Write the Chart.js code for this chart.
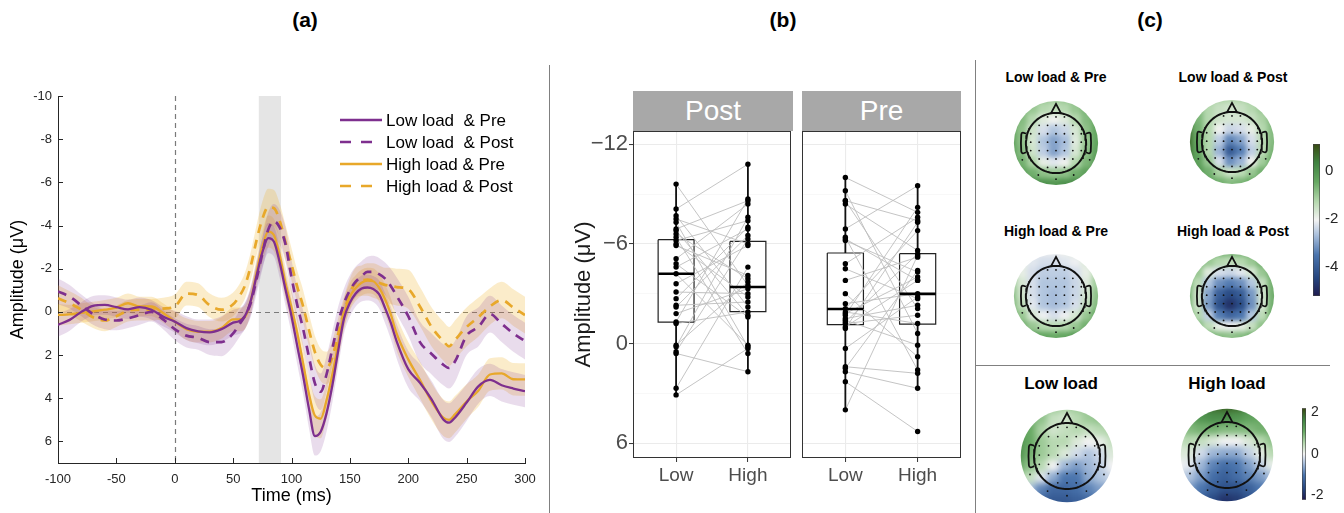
<!DOCTYPE html>
<html><head><meta charset="utf-8">
<script src="https://cdn.jsdelivr.net/npm/chart.js@4.4.1/dist/chart.umd.min.js"></script>
<style>
html,body{margin:0;padding:0;background:#fff;}
body{width:1344px;height:513px;overflow:hidden;position:relative;font-family:"Liberation Sans",Arial,Helvetica,sans-serif;}
.abs{position:absolute;}
canvas{display:block;}
.ptitle{position:absolute;font-weight:bold;font-size:21px;color:#000;transform:translateX(-50%);white-space:nowrap;}
.mtitle{position:absolute;font-weight:bold;color:#000;transform:translate(-50%,-50%);white-space:nowrap;}
.strip{position:absolute;background:#A8A8A8;color:#fff;font-size:28px;display:flex;align-items:center;justify-content:center;}
.sep{position:absolute;background:#808080;}
</style></head><body>
<div class="ptitle" style="left:305px;top:8px">(a)</div>
<div class="ptitle" style="left:783px;top:8px">(b)</div>
<div class="ptitle" style="left:1150px;top:8px">(c)</div>
<div class="sep" style="left:549px;top:65px;width:1px;height:448px"></div>
<div class="sep" style="left:975px;top:60px;width:1px;height:453px"></div>
<div class="sep" style="left:975px;top:365px;width:355px;height:1px"></div>
<canvas id="erp" class="abs" style="left:0;top:0" width="548" height="513"></canvas>
<canvas id="post" class="abs" style="left:550px;top:0" width="245" height="513"></canvas>
<canvas id="pre" class="abs" style="left:797px;top:0" width="170" height="513"></canvas>
<div class="strip" style="left:633px;top:91px;width:160px;height:40px">Post</div>
<div class="strip" style="left:802px;top:91px;width:159px;height:40px">Pre</div>
<div class="mtitle" style="left:1056px;top:77px;font-size:14px">Low load &amp; Pre</div>
<div class="mtitle" style="left:1233px;top:77px;font-size:14px">Low load &amp; Post</div>
<div class="mtitle" style="left:1056px;top:231px;font-size:14px">High load &amp; Pre</div>
<div class="mtitle" style="left:1233px;top:231px;font-size:14px">High load &amp; Post</div>
<div class="mtitle" style="left:1061px;top:384px;font-size:17px">Low load</div>
<div class="mtitle" style="left:1227px;top:384px;font-size:17px">High load</div>
<script>
// ================= DATA =================
// (a) grand-average ERPs
const timeMs = [-100,-90,-80,-70,-60,-50,-40,-30,-20,-10,0,10,20,30,40,50,55,60,65,70,75,80,85,90,95,100,105,110,115,120,125,130,135,140,145,150,155,160,165,170,175,180,185,190,200,210,220,230,235,240,250,260,270,280,290,300];
const lowLoadPre = [0.60,0.37,0.00,-0.28,-0.32,-0.22,-0.12,-0.22,-0.10,0.22, 0.45,0.75,0.90,0.95,0.80,0.50, 0.43,0.20,-0.50,-1.65,-2.75,-3.42,-3.25,-2.26,-1.00,0.20, 1.60,2.97,4.50,5.75,5.55,4.70,3.40,1.80,0.30,-0.42, -0.85,-1.08,-1.13,-1.06,-0.82,-0.20,0.50, 1.35,2.65,3.28,4.05,4.98,5.13,4.90,4.20,3.45,3.15,3.40,3.55,3.67];
const lowLoadPost = [-0.95,-0.70,-0.30,0.10,0.35,0.40,0.30,0.15,0.00,0.35, 0.80,1.10,1.20,1.40,1.40,1.00, 0.60,0.20,-0.40,-1.50,-2.70,-3.80,-4.20,-3.90,-3.10,-1.60, -0.30,0.80,2.10,3.30,3.70,2.90,1.70,0.50,-0.40,-1.00, -1.40,-1.65,-1.85,-1.85,-1.75,-1.55,-1.20, -0.75,0.20,1.40,1.95,2.45,2.60,2.30,1.10,0.70,0.10,0.55,1.00,1.35];
const highLoadPre = [0.14,0.12,0.05,-0.02,-0.10,-0.20,-0.40,-0.25,-0.25,0.05, 0.45,0.80,0.92,0.92,0.75,0.35, 0.35,0.25,-0.50,-1.80,-3.00,-3.72,-3.55,-2.60,-1.30,-0.20, 1.00,2.40,3.80,4.80,4.95,4.10,2.90,1.50,0.10,-0.70, -1.10,-1.35,-1.45,-1.42,-1.12,-0.60,0.10, 1.00,2.20,3.15,4.15,4.90,5.00,4.75,4.15,3.65,2.90,2.85,3.12,3.13];
const highLoadPost = [-0.63,-0.40,-0.10,0.25,0.40,0.20,-0.05,-0.10,-0.10,-0.15, -0.25,-0.85,-0.78,-0.30,-0.10,-0.35, -0.70,-1.20,-2.10,-3.30,-4.30,-4.85,-4.80,-4.20,-3.20,-2.20, -1.15,-0.25,0.85,1.85,2.45,2.60,2.10,1.00,0.00,-0.85, -1.35,-1.45,-1.50,-1.45,-1.35,-1.25,-1.20, -1.15,-1.05,-0.25,0.70,1.35,1.60,1.30,0.70,0.25,-0.25,-0.55,-0.20,0.15];
// shaded error bands (half width, µV)
const seLowPre = [0.55,0.50,0.45,0.45,0.45,0.45,0.45,0.45,0.45,0.45, 0.50,0.55,0.55,0.60,0.60,0.60, 0.60,0.60,0.65,0.65,0.70,0.70,0.70,0.70,0.75,0.80, 0.85,0.85,0.90,0.90,0.90,0.85,0.80,0.75,0.70,0.65, 0.60,0.60,0.60,0.60,0.65,0.70,0.75, 0.80,0.85,0.85,0.85,0.90,0.90,0.90,0.85,0.80,0.75,0.75,0.75,0.75];
const seLowPost = [0.60,0.55,0.50,0.50,0.45,0.45,0.45,0.45,0.45,0.45, 0.50,0.55,0.55,0.60,0.65,0.60, 0.60,0.60,0.65,0.70,0.75,0.80,0.80,0.80,0.80,0.80, 0.80,0.85,0.85,0.85,0.85,0.85,0.80,0.75,0.70,0.70, 0.70,0.70,0.70,0.75,0.75,0.75,0.80, 0.85,0.90,0.95,0.95,0.95,0.95,0.95,0.90,0.90,0.85,0.85,0.85,0.85];
const seHighPre = [0.50,0.45,0.45,0.45,0.45,0.45,0.45,0.45,0.45,0.45, 0.45,0.50,0.50,0.50,0.50,0.55, 0.55,0.55,0.60,0.65,0.70,0.75,0.75,0.75,0.75,0.80, 0.80,0.85,0.85,0.90,0.90,0.85,0.80,0.75,0.70,0.65, 0.60,0.60,0.60,0.60,0.65,0.70,0.75, 0.80,0.80,0.85,0.85,0.85,0.85,0.85,0.80,0.75,0.75,0.75,0.75,0.75];
const seHighPost = [0.60,0.55,0.55,0.50,0.50,0.50,0.50,0.50,0.50,0.50, 0.55,0.55,0.55,0.55,0.55,0.55, 0.55,0.60,0.65,0.70,0.80,0.85,0.85,0.80,0.80,0.75, 0.75,0.75,0.75,0.75,0.75,0.75,0.75,0.70,0.70,0.70, 0.70,0.70,0.75,0.80,0.80,0.80,0.85, 0.85,0.90,0.90,0.90,0.90,0.90,0.90,0.90,0.90,0.85,0.85,0.85,0.85];
const erpLabels = ['Low load  & Pre','Low load  & Post','High load & Pre','High load & Post'];
const analysisWindowMs = [72, 91];
const ampTicks = [-10,-8,-6,-4,-2,0,2,4,6];
const timeTicks = [-100,-50,0,50,100,150,200,250,300];

// (b) individual amplitudes, paired by subject
const loadLevels = ['Low','High'];
const postLow  = [-9.6,-8.1,-7.7,-7.5,-7.3,-6.9,-6.8,-6.6,-6.4,-6.2,-6.0,-5.9,-5.1,-4.8,-4.6,-4.2,-3.6,-3.1,-2.7,-2.3,-2.2,-1.8,-1.3,-1.2,0.1,0.2,0.5,0.6,2.7,3.1];
const postHigh = [-3.5,-10.8,-2.2,-6.0,0.2,-8.6,-1.7,-3.9,0.6,-7.4,-2.8,-4.1,-8.4,-1.6,-6.9,0.1,-5.9,-3.0,-7.0,-2.5,-6.5,-3.3,-8.7,-1.9,-3.7,-7.6,-6.3,1.7,-4.6,0.3];
const preLow   = [-10.0,-9.2,-8.6,-8.6,-8.4,-6.9,-6.4,-6.3,-6.2,-4.8,-4.5,-3.8,-3.0,-2.4,-2.1,-1.9,-1.8,-1.7,-1.5,-1.4,-1.3,-1.2,-1.0,-0.9,0.3,1.4,1.5,1.7,2.3,4.0];
const preHigh  = [-7.9,-0.6,-7.4,-2.1,-5.6,-9.5,1.6,-3.8,-4.3,-7.6,-2.7,-5.2,0.8,-3.0,-6.8,-1.2,-4.0,-8.2,-2.3,0.1,-5.4,-1.7,-3.8,-7.3,-2.8,1.8,-4.4,2.7,5.3,-5.3];
// box statistics: [whisker min, lower hinge, median, upper hinge, whisker max]
const postLowBox  = [-9.6,-6.25,-4.2,-1.28,3.1];
const postHighBox = [-10.8,-6.15,-3.4,-1.92,1.7];
const preLowBox   = [-10.0,-5.45,-2.08,-1.14,4.0];
const preHighBox  = [-9.5,-5.41,-2.99,-1.16,2.75];
const boxAmpTicks = [-12,-9,-6,-3,0,3,6];

// (c) scalp maps (9x9 grids, rows front->back, cols left->right)
const topoLowPre = [
[-0.5,-0.6,-0.8,-1.0,-1.1,-1.0,-0.8,-0.6,-0.5],
[-0.5,-0.7,-1.0,-1.3,-1.4,-1.3,-1.0,-0.7,-0.5],
[-0.5,-0.8,-1.3,-1.8,-2.0,-1.8,-1.3,-0.8,-0.5],
[-0.4,-0.9,-1.6,-2.3,-2.6,-2.4,-1.7,-0.9,-0.4],
[-0.3,-0.9,-1.7,-2.6,-3.0,-2.7,-1.8,-1.0,-0.4],
[-0.3,-0.8,-1.6,-2.5,-3.0,-2.6,-1.7,-0.9,-0.3],
[-0.2,-0.6,-1.2,-1.9,-2.2,-2.0,-1.3,-0.7,-0.2],
[0.0,-0.3,-0.6,-0.9,-1.0,-0.9,-0.6,-0.3,0.0],
[0.3,0.2,0.1,0.0,-0.1,0.0,0.1,0.2,0.3]];
const topoLowPost = [
[-0.3,-0.8,-1.0,-1.2,-1.2,-1.2,-1.0,-0.8,-0.5],
[0.0,-0.8,-1.3,-1.5,-1.6,-1.5,-1.3,-1.0,-0.6],
[0.3,-0.7,-1.3,-1.6,-1.7,-1.7,-1.5,-1.2,-0.7],
[0.6,-0.6,-1.3,-2.0,-2.4,-2.3,-1.9,-1.3,-0.8],
[0.7,-0.5,-1.3,-2.5,-3.3,-3.0,-2.3,-1.4,-0.8],
[0.6,-0.4,-1.3,-2.8,-4.0,-3.4,-2.5,-1.4,-0.7],
[0.4,-0.3,-1.0,-2.3,-3.2,-2.8,-2.0,-1.1,-0.5],
[0.2,-0.1,-0.6,-1.2,-1.6,-1.4,-1.0,-0.6,-0.3],
[0.1,0.0,-0.3,-0.6,-0.8,-0.7,-0.5,-0.2,0.0]];
const topoHighPre = [
[-1.6,-1.8,-2.0,-2.1,-2.1,-2.0,-1.8,-1.6,-1.4],
[-1.4,-1.9,-2.2,-2.3,-2.3,-2.2,-2.1,-1.8,-1.4],
[-1.2,-1.9,-2.3,-2.5,-2.5,-2.5,-2.3,-1.9,-1.3],
[-1.0,-1.7,-2.3,-2.6,-2.6,-2.6,-2.4,-1.8,-1.1],
[-0.8,-1.6,-2.3,-2.6,-2.7,-2.6,-2.4,-1.7,-0.9],
[-0.7,-1.4,-2.2,-2.6,-2.7,-2.6,-2.3,-1.5,-0.8],
[-0.5,-1.0,-1.7,-2.1,-2.3,-2.1,-1.7,-1.0,-0.5],
[-0.2,-0.6,-1.0,-1.3,-1.4,-1.3,-1.0,-0.6,-0.2],
[0.3,0.1,-0.2,-0.4,-0.5,-0.4,-0.2,0.1,0.4]];
const topoHighPost = [
[-0.2,-0.3,-0.5,-0.6,-0.6,-0.6,-0.5,-0.3,-0.2],
[-0.3,-0.6,-1.0,-1.3,-1.4,-1.3,-1.0,-0.6,-0.3],
[-0.5,-1.0,-1.8,-2.3,-2.4,-2.2,-1.7,-1.0,-0.5],
[-0.6,-1.4,-2.6,-3.2,-3.4,-3.2,-2.6,-1.5,-0.6],
[-0.6,-1.6,-3.0,-3.9,-4.3,-4.0,-3.1,-1.7,-0.6],
[-0.6,-1.6,-3.1,-4.2,-4.8,-4.3,-3.2,-1.7,-0.6],
[-0.5,-1.3,-2.5,-3.4,-3.8,-3.5,-2.6,-1.4,-0.5],
[-0.3,-0.8,-1.4,-1.9,-2.1,-1.9,-1.5,-0.9,-0.3],
[-0.1,-0.3,-0.6,-0.8,-0.9,-0.8,-0.6,-0.3,-0.1]];
const topoLowDiff = [
[0.8,0.8,0.8,0.7,0.6,0.7,0.8,0.8,0.8],
[1.0,1.0,0.8,0.4,0.3,0.5,0.7,0.8,0.8],
[1.3,1.1,0.6,0.3,0.4,0.5,0.4,0.5,0.6],
[1.5,1.1,0.7,0.5,0.5,0.2,0.0,0.1,0.4],
[1.5,1.0,0.7,0.5,0.2,-0.2,-0.4,-0.2,0.2],
[1.2,0.8,0.5,0.0,-0.5,-0.7,-0.5,-0.3,0.0],
[0.8,0.4,-0.1,-0.6,-1.0,-1.0,-0.6,-0.4,-0.2],
[0.2,-0.4,-0.9,-1.2,-1.2,-1.1,-0.9,-0.7,-0.5],
[-0.4,-1.0,-1.3,-1.4,-1.4,-1.3,-1.2,-1.0,-0.8]];
const topoHighDiff = [
[1.2,1.4,1.7,1.9,2.0,1.9,1.7,1.4,1.2],
[1.0,1.2,1.4,1.5,1.5,1.4,1.2,1.1,1.1],
[0.8,0.9,1.0,1.0,0.9,0.9,0.9,1.0,1.0],
[0.4,0.5,0.4,0.2,0.0,0.0,0.2,0.5,0.8],
[0.2,0.2,-0.2,-0.5,-0.6,-0.6,-0.3,0.1,0.5],
[0.0,-0.1,-0.5,-0.9,-1.1,-1.0,-0.7,-0.3,0.1],
[-0.2,-0.4,-0.7,-1.1,-1.3,-1.1,-0.9,-0.7,-0.4],
[-0.4,-0.7,-1.0,-1.3,-1.5,-1.5,-1.3,-1.0,-0.7],
[-0.6,-0.9,-1.3,-1.6,-1.9,-1.8,-1.5,-1.2,-0.9]];
const condRange = [-5.2, 1.1];
const condTicks = [0, -2, -4];
const loadRange = [-2.2, 2.2];
const loadTicks = [2, 0, -2];

// ================= STYLE / RENDER =================
Chart.defaults.font.family = '"Liberation Sans", Arial, Helvetica, sans-serif';
const PURPLE = '#7E2F8E', ORANGE = '#E8A82A';

// ---------- (a) ----------
const seriesVals = [lowLoadPre, lowLoadPost, highLoadPre, highLoadPost];
const seriesSE = [seLowPre, seLowPost, seHighPre, seHighPost];
const seriesColor = [PURPLE, PURPLE, ORANGE, ORANGE];
const seriesBand = ['rgba(126,47,142,0.17)','rgba(126,47,142,0.17)','rgba(237,177,32,0.24)','rgba(237,177,32,0.24)'];
const seriesDash = [[], [9,7], [], [9,7]];
const erpDs = [];
seriesVals.forEach((vals, s) => {
  erpDs.push({label:'_u'+s, data: timeMs.map((t,i)=>({x:t, y:vals[i]+seriesSE[s][i]})), borderColor:'rgba(0,0,0,0)', borderWidth:0, pointRadius:0, fill: 2*s+1, backgroundColor: seriesBand[s], order:5, cubicInterpolationMode:'monotone'});
  erpDs.push({label:'_l'+s, data: timeMs.map((t,i)=>({x:t, y:vals[i]-seriesSE[s][i]})), borderColor:'rgba(0,0,0,0)', borderWidth:0, pointRadius:0, fill:false, order:5, cubicInterpolationMode:'monotone'});
});
seriesVals.forEach((vals, s) => {
  erpDs.push({label: erpLabels[s], data: timeMs.map((t,i)=>({x:t, y:vals[i]})), borderColor: seriesColor[s], borderWidth: s%2 ? 2.7 : 2.3, borderDash: seriesDash[s], pointRadius:0, fill:false, order:1, cubicInterpolationMode:'monotone'});
});

const erpBack = {id:'erpBack', beforeDatasetsDraw(chart){
  const ctx=chart.ctx, a=chart.chartArea, xs=chart.scales.x, ys=chart.scales.y;
  ctx.save();
  const x1=xs.getPixelForValue(analysisWindowMs[0]), x2=xs.getPixelForValue(analysisWindowMs[1]);
  ctx.fillStyle='#E5E5E5'; ctx.fillRect(x1, a.top, x2-x1, a.bottom-a.top);
  ctx.strokeStyle='#7a7a7a'; ctx.lineWidth=1.2; ctx.setLineDash([5,4]);
  const x0=Math.round(xs.getPixelForValue(0))+0.5, y0=Math.round(ys.getPixelForValue(0))+0.5;
  ctx.beginPath(); ctx.moveTo(x0,a.top); ctx.lineTo(x0,a.bottom); ctx.moveTo(a.left,y0); ctx.lineTo(a.right,y0); ctx.stroke();
  ctx.restore();
}};
const erpTicks = {id:'erpTicks', afterDatasetsDraw(chart){
  const ctx=chart.ctx, a=chart.chartArea, xs=chart.scales.x, ys=chart.scales.y;
  ctx.save(); ctx.strokeStyle='#262626'; ctx.lineWidth=1; ctx.beginPath();
  xs.ticks.forEach(t=>{const x=Math.round(xs.getPixelForValue(t.value))+0.5; ctx.moveTo(x,a.bottom); ctx.lineTo(x,a.bottom-5);});
  ys.ticks.forEach(t=>{const y=Math.round(ys.getPixelForValue(t.value))+0.5; ctx.moveTo(a.left,y); ctx.lineTo(a.left+5,y);});
  ctx.stroke(); ctx.restore();
}};
const erpLegend = {id:'erpLegend', afterDraw(chart){
  const ctx=chart.ctx, a=chart.chartArea;
  const items=chart.data.datasets.filter(d=>!d.label.startsWith('_'));
  ctx.save(); ctx.font='17px "Liberation Sans", Arial, sans-serif'; ctx.textBaseline='middle'; ctx.fillStyle='#000';
  items.forEach((d,i)=>{
    const y=a.top+24+i*22, x0=a.right-185;
    ctx.strokeStyle=d.borderColor; ctx.lineWidth=d.borderWidth; ctx.setLineDash(d.borderDash.length?[11,10]:[]);
    ctx.beginPath(); ctx.moveTo(x0,y); ctx.lineTo(x0+42,y); ctx.stroke(); ctx.setLineDash([]);
    ctx.fillText(d.label, x0+46, y+1);
  });
  ctx.restore();
}};
new Chart(document.getElementById('erp'), {
  type:'line',
  data:{datasets: erpDs},
  options:{
    responsive:false, animation:false, devicePixelRatio:1, events:[],
    layout:{padding:{top:96, right:23, left:0, bottom:0}},
    plugins:{legend:{display:false}, tooltip:{enabled:false}},
    scales:{
      x:{type:'linear', min:-100, max:300,
         afterBuildTicks:s=>{s.ticks=timeTicks.map(v=>({value:v}));},
         grid:{display:false, drawTicks:false}, border:{display:true, color:'#262626', width:1},
         ticks:{font:{size:13}, color:'#262626', padding:9, maxRotation:0, autoSkip:false},
         title:{display:true, text:'Time (ms)', font:{size:18}, color:'#000', padding:{top:0, bottom:6}},
         afterFit:s=>{s.height=50;}},
      y:{type:'linear', reverse:true, min:-10, max:7,
         afterBuildTicks:s=>{s.ticks=ampTicks.map(v=>({value:v}));},
         grid:{display:false, drawTicks:false}, border:{display:true, color:'#262626', width:1},
         ticks:{font:{size:13}, color:'#262626', padding:6},
         title:{display:true, text:'Amplitude (μV)', font:{size:18}, color:'#000', padding:{top:7, bottom:0}},
         afterFit:s=>{s.width=58;}}
    }
  },
  plugins:[erpBack, erpTicks, erpLegend]
});

// ---------- (b) ----------
const panelBorder = {id:'panelBorder', afterDatasetsDraw(chart){
  const a=chart.chartArea, c=chart.ctx; c.save(); c.strokeStyle='#333'; c.lineWidth=1;
  c.strokeRect(Math.round(a.left)+0.5, Math.round(a.top)+0.5, Math.round(a.right-a.left)-1, Math.round(a.bottom-a.top)-1); c.restore();
}};
const fmtMinus = v => v < 0 ? '\u2212' + Math.abs(v) : String(v);
function facet(id, low, high, lowBox, highBox, withY, yWidth, padRight){
  const HALF = 0.25;
  const ds = [];
  [lowBox, highBox].forEach((b,k)=>{
    const xc=k+1;
    ds.push({showLine:true, data:[{x:xc-HALF,y:b[1]},{x:xc+HALF,y:b[1]},{x:xc+HALF,y:b[3]},{x:xc-HALF,y:b[3]},{x:xc-HALF,y:b[1]}], borderColor:'#222', borderWidth:1.2, backgroundColor:'#fff', fill:'shape', pointRadius:0, order:6});
  });
  low.forEach((v,i)=>ds.push({showLine:true, data:[{x:1,y:v},{x:2,y:high[i]}], borderColor:'#BDBDBD', borderWidth:0.9, pointRadius:0, order:4}));
  [lowBox, highBox].forEach((b,k)=>{
    const xc=k+1;
    ds.push({showLine:true, data:[{x:xc,y:b[0]},{x:xc,y:b[1]}], borderColor:'#111', borderWidth:1.8, pointRadius:0, order:3});
    ds.push({showLine:true, data:[{x:xc,y:b[3]},{x:xc,y:b[4]}], borderColor:'#111', borderWidth:1.8, pointRadius:0, order:3});
    ds.push({showLine:true, data:[{x:xc-HALF,y:b[2]},{x:xc+HALF,y:b[2]}], borderColor:'#000', borderWidth:2.6, pointRadius:0, order:2});
  });
  ds.push({data: low.map(v=>({x:1,y:v})).concat(high.map(v=>({x:2,y:v}))), pointRadius:2.7, backgroundColor:'#000', borderWidth:0, order:1});
  new Chart(document.getElementById(id), {
    type:'scatter', data:{datasets:ds},
    options:{
      responsive:false, animation:false, devicePixelRatio:1, events:[],
      layout:{padding:{top:131, right:padRight, left:0, bottom:0}},
      plugins:{legend:{display:false}, tooltip:{enabled:false}},
      scales:{
        x:{type:'linear', min:0.4, max:2.6,
           afterBuildTicks:s=>{s.ticks=[{value:1},{value:2}];},
           ticks:{callback:v=>loadLevels[v-1], font:{size:19}, color:'#4D4D4D', padding:2, maxRotation:0, autoSkip:false},
           grid:{color:'#EBEBEB', lineWidth:1.1, drawTicks:true, tickLength:4, tickColor:'#333', tickWidth:1},
           border:{display:false}, afterFit:s=>{s.height=55;}},
        y:{type:'linear', reverse:true, min:-12.8, max:6.9,
           afterBuildTicks:s=>{s.ticks=boxAmpTicks.map(v=>({value:v}));},
           ticks:{display:withY, callback:v=> (v%6===0 ? fmtMinus(v) : ''), font:{size:22}, color:'#4D4D4D', padding:1},
           grid:{color:c=>(c.tick && c.tick.value%6===0)?'#EBEBEB':'#F3F3F3', lineWidth:c=>(c.tick && c.tick.value%6===0)?1.1:0.6,
                 drawTicks:withY, tickLength:4, tickColor:c=>(c.tick && c.tick.value%6===0)?'#333':'rgba(0,0,0,0)', tickWidth:1},
           border:{display:false},
           title:{display:withY, text:'Amplitude (μV)', font:{size:22}, color:'#1a1a1a', padding:{top:21, bottom:0}},
           afterFit:s=>{s.width=yWidth;}}
      }
    },
    plugins:[panelBorder]
  });
}
facet('post', postLow, postHigh, postLowBox, postHighBox, true, 83, 2);
facet('pre', preLow, preHigh, preLowBox, preHighBox, false, 5, 6);

// ---------- (c) ----------
const cmapStops = [[0,[31,27,79]],[0.12,[38,70,127]],[0.27,[74,116,173]],[0.40,[169,191,220]],[0.5,[243,243,243]],[0.62,[181,216,174]],[0.75,[102,168,98]],[0.88,[63,130,64]],[1,[57,74,18]]];
function cmap(t){
  t=Math.max(0,Math.min(1,t));
  for(let i=1;i<cmapStops.length;i++){
    if(t<=cmapStops[i][0]){
      const [t0,c0]=cmapStops[i-1], [t1,c1]=cmapStops[i]; const f=(t-t0)/(t1-t0);
      return 'rgb('+c0.map((v,j)=>Math.round(v+(c1[j]-v)*f)).join(',')+')';
    }
  }
  return 'rgb('+cmapStops[cmapStops.length-1][1].join(',')+')';
}
const topoSmooth = {id:'topoSmooth', afterDatasetDraw(chart, args){
  if(args.index!==0) return;
  const ctx=chart.ctx, xs=chart.scales.x, ys=chart.scales.y, cv=ctx.canvas;
  const cx=xs.getPixelForValue(0), cy=ys.getPixelForValue(0), rad=xs.getPixelForValue(1)-cx;
  const off=document.createElement('canvas'); off.width=cv.width; off.height=cv.height;
  off.getContext('2d').drawImage(cv,0,0);
  ctx.save(); ctx.setTransform(1,0,0,1,0,0); ctx.clearRect(0,0,cv.width,cv.height);
  ctx.beginPath(); ctx.arc(cx,cy,rad,0,Math.PI*2); ctx.clip();
  ctx.filter='blur('+(rad*0.07).toFixed(1)+'px)'; ctx.drawImage(off,0,0); ctx.restore();
}};
const HEAD = 0.715;
function topo(grid, range, cx, cy, R){
  const size=Math.round(2*R+20);
  const cv=document.createElement('canvas'); cv.width=size; cv.height=size; cv.className='abs';
  cv.style.left=(cx-size/2)+'px'; cv.style.top=(cy-size/2)+'px'; document.body.appendChild(cv);
  const half=size/2/R, n=grid.length, span=1.15;
  const cells=[], cols=[];
  grid.forEach((row,r)=>row.forEach((v,c)=>{
    cells.push({x:-span+(c+0.5)*2*span/n, y:span-(r+0.5)*2*span/n});
    cols.push(cmap((v-range[0])/(range[1]-range[0])));
  }));
  const cellPx=2*span*R/n;
  const circ=[]; for(let a=0;a<=360;a+=3){const q=a*Math.PI/180; circ.push({x:HEAD*Math.cos(q), y:HEAD*Math.sin(q)});}
  const nose=[{x:-0.12,y:HEAD-0.01},{x:0,y:0.93},{x:0.12,y:HEAD-0.01}];
  const earR=[{x:HEAD-0.005,y:0.22},{x:0.79,y:0.245},{x:0.825,y:0.2},{x:0.825,y:-0.2},{x:0.79,y:-0.245},{x:HEAD-0.005,y:-0.22}];
  const earL=earR.map(p=>({x:-p.x,y:p.y}));
  const elec=[]; for(let i=-3;i<=3;i++) for(let j=-3;j<=3;j++){const x=i*0.2, y=j*0.2+0.02; if(x*x+y*y<0.68*0.68) elec.push({x,y});}
  elec.push({x:0,y:-0.86},{x:-0.42,y:-0.76},{x:0.42,y:-0.76},{x:-0.8,y:-0.4},{x:0.8,y:-0.4});
  const line = (data, extra) => Object.assign({data, showLine:true, borderColor:'#111', borderWidth:2, pointRadius:0, order:2}, extra||{});
  new Chart(cv, {
    type:'scatter',
    data:{datasets:[
      {data:cells, pointStyle:'rect', pointRadius:(cellPx+2)/Math.SQRT2, backgroundColor:cols, borderWidth:0, order:9},
      line(circ), line(nose, {borderWidth:1.8}), line(earL, {tension:0.35, borderWidth:1.8}), line(earR, {tension:0.35, borderWidth:1.8}),
      {data:elec, pointRadius:0.9, backgroundColor:'#111', borderWidth:0, order:1}
    ]},
    options:{responsive:false, animation:false, devicePixelRatio:1, events:[], layout:{padding:0},
      plugins:{legend:{display:false}, tooltip:{enabled:false}},
      scales:{x:{display:false, min:-half, max:half}, y:{display:false, min:-half, max:half}}},
    plugins:[topoSmooth]
  });
}
topo(topoLowPre, condRange, 1056, 143, 51);
topo(topoLowPost, condRange, 1232, 142, 51);
topo(topoHighPre, condRange, 1056, 296, 51);
topo(topoHighPost, condRange, 1232, 296, 51);
topo(topoLowDiff, loadRange, 1067, 456, 56);
topo(topoHighDiff, loadRange, 1227, 455, 56);

const cbarPlugin = {id:'cbar', beforeDatasetsDraw(chart){
  const a=chart.chartArea, ys=chart.scales.y, ctx=chart.ctx;
  const g=ctx.createLinearGradient(0, ys.getPixelForValue(ys.min), 0, ys.getPixelForValue(ys.max));
  cmapStops.forEach(([t,c])=>g.addColorStop(t,'rgb('+c.join(',')+')'));
  ctx.save(); ctx.fillStyle=g; ctx.fillRect(a.left, a.top, a.right-a.left, a.bottom-a.top);
  ctx.strokeStyle='#444'; ctx.lineWidth=0.6; ctx.strokeRect(a.left+0.3, a.top+0.3, a.right-a.left-0.6, a.bottom-a.top-0.6);
  ctx.restore();
}};
function colorbar(left, top, w, h, barW, range, ticks, fs, padTop, padBottom){
  const cv=document.createElement('canvas'); cv.width=w; cv.height=h; cv.className='abs';
  cv.style.left=left+'px'; cv.style.top=top+'px'; document.body.appendChild(cv);
  new Chart(cv, {type:'scatter', data:{datasets:[]},
    options:{responsive:false, animation:false, devicePixelRatio:1, events:[],
      layout:{padding:{top:padTop, bottom:padBottom, left:0, right:0}},
      plugins:{legend:{display:false}, tooltip:{enabled:false}},
      scales:{x:{display:false, min:0, max:1},
        y:{position:'right', min:range[0], max:range[1],
           afterBuildTicks:s=>{s.ticks=ticks.map(v=>({value:v}));},
           ticks:{font:{size:fs}, color:'#262626', padding:5},
           grid:{display:false, drawTicks:false}, border:{display:false},
           afterFit:s=>{s.width=w-barW;}}}},
    plugins:[cbarPlugin]});
}
colorbar(1313, 130, 31, 180, 7, condRange, condTicks, 15, 9, 14);
colorbar(1302, 395, 30, 118, 4, loadRange, loadTicks, 14, 8, 10);
</script>
</body></html>
